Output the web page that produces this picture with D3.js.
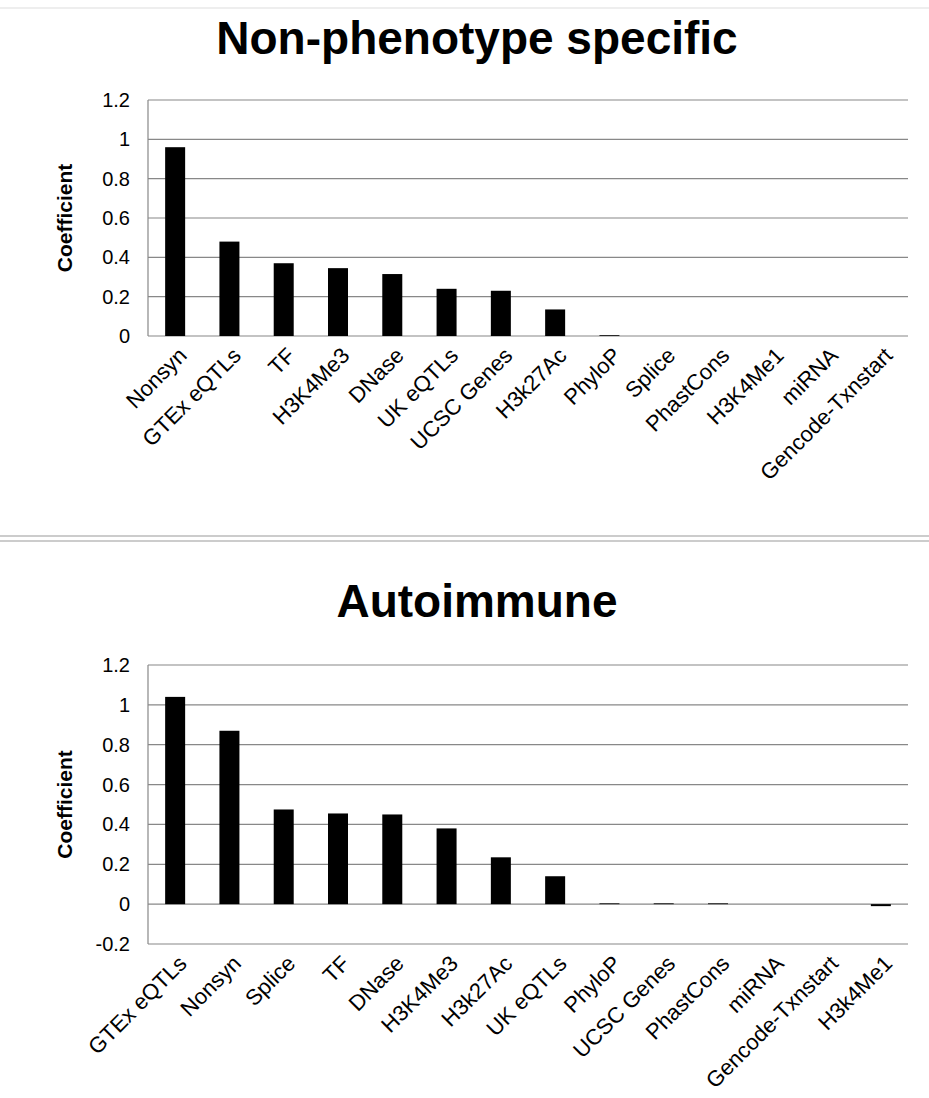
<!DOCTYPE html>
<html><head><meta charset="utf-8">
<script src="https://cdn.jsdelivr.net/npm/d3@7"></script>
<style>body{margin:0;background:#fff}text{font-family:"Liberation Sans",Arial,sans-serif}</style>
</head><body><svg id="c" width="929" height="1098"></svg>
<script>
const topCats = ["Nonsyn","GTEx eQTLs","TF","H3K4Me3","DNase","UK eQTLs","UCSC Genes","H3k27Ac","PhyloP","Splice","PhastCons","H3K4Me1","miRNA","Gencode-Txnstart"];
const topVals = [0.96,0.48,0.37,0.345,0.315,0.24,0.23,0.135,0.004,0,0,0,0,0];
const botCats = ["GTEx eQTLs","Nonsyn","Splice","TF","DNase","H3K4Me3","H3k27Ac","UK eQTLs","PhyloP","UCSC Genes","PhastCons","miRNA","Gencode-Txnstart","H3k4Me1"];
const botVals = [1.04,0.87,0.475,0.455,0.45,0.38,0.235,0.14,0.004,0.004,0.004,0,0,-0.01];
const topTicks = [0,0.2,0.4,0.6,0.8,1,1.2];
const botTicks = [-0.2,0,0.2,0.4,0.6,0.8,1,1.2];

const svg = d3.select("#c");
svg.append("line").attr("x1",0).attr("x2",929).attr("y1",8).attr("y2",8).attr("stroke","#ddd");
svg.append("line").attr("x1",0).attr("x2",929).attr("y1",536).attr("y2",536).attr("stroke","#999");
svg.append("line").attr("x1",0).attr("x2",929).attr("y1",541).attr("y2",541).attr("stroke","#999");

function panel(title, titleY, cats, vals, ticks, yDom, yRange) {
  const g = svg.append("g");
  const x = d3.scaleBand().domain(cats).range([148, 908]);
  const y = d3.scaleLinear().domain(yDom).range(yRange);
  g.append("text").attr("x",477).attr("y",titleY).attr("text-anchor","middle")
    .attr("font-size",46).attr("font-weight","bold").text(title);
  ticks.forEach(t => {
    g.append("line").attr("x1",148).attr("x2",908).attr("y1",y(t)).attr("y2",y(t))
      .attr("stroke","#888").attr("stroke-width",1.2);
    g.append("text").attr("x",130).attr("y",y(t)+7).attr("text-anchor","end")
      .attr("font-size",20).text(t);
  });
  g.append("line").attr("x1",148).attr("x2",148).attr("y1",y(yDom[1])).attr("y2",y(yDom[0]))
    .attr("stroke","#888").attr("stroke-width",1.2);
  g.selectAll("rect").data(vals).join("rect")
    .attr("x",(d,i)=>x(cats[i])+x.bandwidth()/2-10).attr("width",20)
    .attr("y",d=>y(Math.max(d,0))).attr("height",d=>Math.abs(y(d)-y(0)))
    .attr("fill","#000");
  const y0 = y(yDom[0]);
  cats.forEach(c => {
    const cx = x(c)+x.bandwidth()/2+2, cy = y0+10;
    g.append("text").attr("transform",`translate(${cx},${cy}) rotate(-45)`)
      .attr("text-anchor","end").attr("font-size",22).attr("dy","0.7em").text(c);
  });
  const ym = (yRange[0]+yRange[1])/2;
  g.append("text").attr("transform",`translate(72,${ym}) rotate(-90)`).attr("text-anchor","middle")
    .attr("font-size",21).attr("font-weight","bold").text("Coefficient");
}
panel("Non-phenotype specific", 54, topCats, topVals, topTicks, [0,1.2], [336,100]);
panel("Autoimmune", 617, botCats, botVals, botTicks, [-0.2,1.2], [944,665]);
</script></body></html>
